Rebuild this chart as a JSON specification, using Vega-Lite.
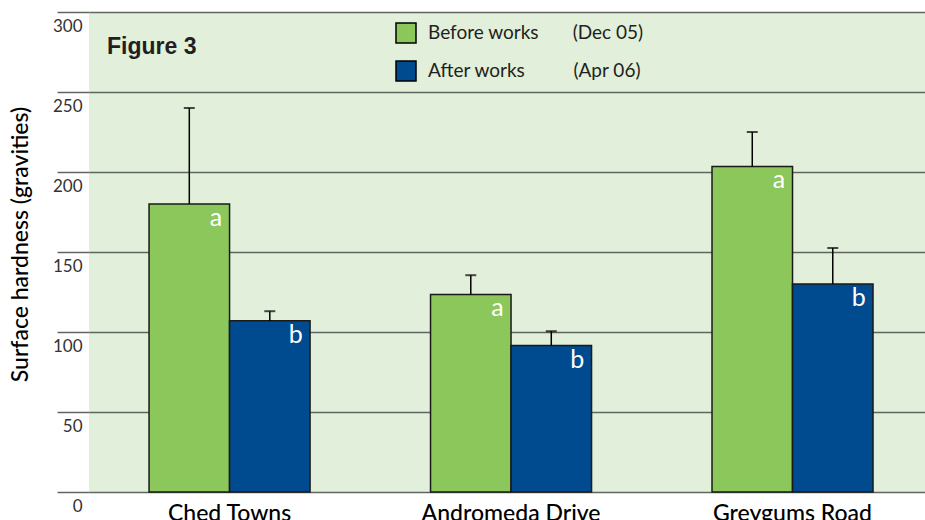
{
  "$schema": "https://vega.github.io/schema/vega-lite/v6.json",
  "width": 836,
  "height": 480,
  "autosize": {"type": "none"},
  "padding": {"left": 89, "top": 12, "right": 0, "bottom": 28},
  "background": "white",
  "title": {"text": "Figure 3", "anchor": "start", "frame": "group", "orient": "top", "offset": -66, "baseline": "alphabetic", "dx": 18, "fontSize": 23, "fontWeight": "bold", "font": "Liberation Sans", "color": "#231f20"},
  "config": {
    "view": {"fill": "#e2efda", "stroke": null},
    "font": "Lato"
  },
  "data": {
    "values": [
      {"site": "Ched Towns", "period": "Before works", "value": 180, "upper": 240, "letter": "a"},
      {"site": "Ched Towns", "period": "After works", "value": 107, "upper": 113, "letter": "b"},
      {"site": "Andromeda Drive", "period": "Before works", "value": 123.5, "upper": 135.5, "letter": "a"},
      {"site": "Andromeda Drive", "period": "After works", "value": 91.5, "upper": 100.5, "letter": "b"},
      {"site": "Greygums Road", "period": "Before works", "value": 203.5, "upper": 225, "letter": "a"},
      {"site": "Greygums Road", "period": "After works", "value": 130, "upper": 152.5, "letter": "b"}
    ]
  },
  "encoding": {
    "x": {
      "field": "site", "type": "nominal",
      "sort": ["Ched Towns", "Andromeda Drive", "Greygums Road"],
      "scale": {"paddingInner": 0.428, "paddingOuter": 0.199, "align": 0.536},
      "axis": {"title": null, "domain": false, "ticks": false, "labelAngle": 0, "labelPadding": 10, "labelFontSize": 23, "labelFontWeight": 500, "labelColor": "#000000", "labelFont": "Lato"}
    },
    "xOffset": {"field": "period", "type": "nominal", "sort": ["Before works", "After works"]}
  },
  "layer": [
    {
      "mark": {"type": "bar", "stroke": "#1a1a1a", "strokeWidth": 1.5},
      "encoding": {
        "y": {
          "field": "value", "type": "quantitative",
          "scale": {"domain": [0, 300], "nice": false},
          "axis": {
            "values": [0, 50, 100, 150, 200, 250, 300],
            "title": "Surface hardness (gravities)",
            "titleFontSize": 23, "titleFontWeight": 500, "titleColor": "#000000", "titleFont": "Lato",
            "titleX": -69, "titleY": 232, "titleAlign": "center", "titleBaseline": "middle", "titleAngle": -90,
            "domain": false,
            "grid": true, "gridColor": "#5f655f", "gridWidth": 1.6,
            "ticks": true, "tickSize": 32, "tickColor": "#5f655f", "tickWidth": 1.6,
            "labelAlign": "right", "labelBaseline": "top", "labelPadding": -25, "labelOffset": 6,
            "labelFontSize": 17, "labelColor": "#333333", "labelFont": "Lato"
          }
        },
        "color": {
          "field": "period", "type": "nominal",
          "scale": {"domain": ["Before works", "After works"], "range": ["#8bc75a", "#004a8f"]},
          "legend": {
            "title": null, "orient": "none", "legendX": 306, "legendY": 10, "padding": 0,
            "symbolType": "square", "symbolSize": 400, "symbolStrokeColor": "#000000", "symbolStrokeWidth": 1.5, "symbolOpacity": 1,
            "labelFontSize": 19, "labelFont": "Lato", "labelColor": "#231f20", "labelOffset": 11, "rowPadding": 12, "labelLimit": 400,
            "labelExpr": "datum.label == 'Before works' ? 'Before works\u00a0\u00a0\u00a0\u00a0\u00a0\u00a0\u00a0(Dec 05)' : 'After works\u00a0\u00a0\u00a0\u00a0\u00a0\u00a0\u00a0\u00a0\u00a0\u00a0(Apr 06)'"
          }
        }
      }
    },
    {
      "mark": {"type": "rule", "color": "#000000", "strokeWidth": 1.5},
      "encoding": {
        "y": {"field": "value", "type": "quantitative"},
        "y2": {"field": "upper"}
      }
    },
    {
      "mark": {"type": "tick", "color": "#000000", "size": 11, "thickness": 2, "orient": "horizontal"},
      "encoding": {
        "y": {"field": "upper", "type": "quantitative"}
      }
    },
    {
      "mark": {"type": "text", "color": "#ffffff", "align": "right", "baseline": "alphabetic", "dx": 33, "dy": 22, "fontSize": 25, "font": "Lato"},
      "encoding": {
        "y": {"field": "value", "type": "quantitative"},
        "text": {"field": "letter"}
      }
    }
  ]
}
